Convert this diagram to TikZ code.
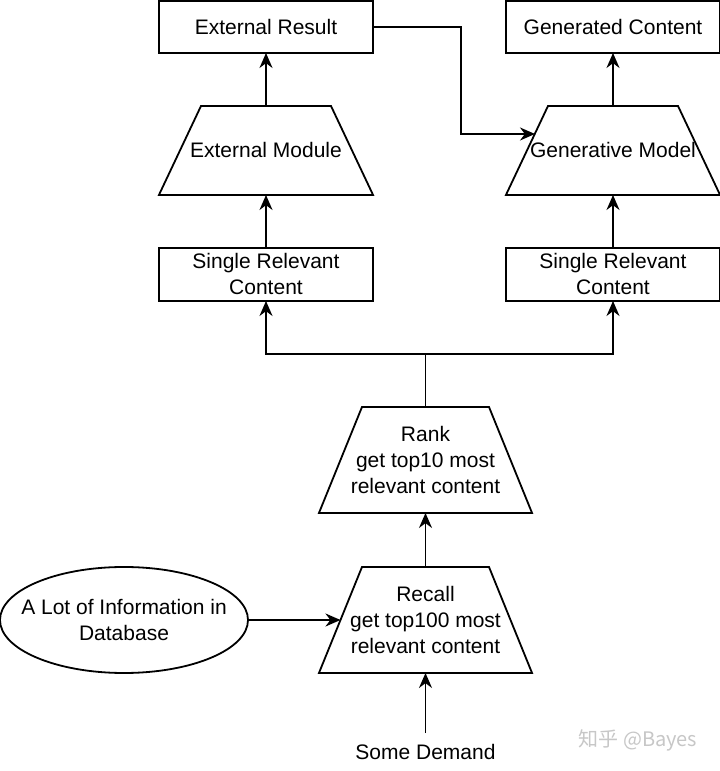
\documentclass[tikz,border=0pt]{standalone}
\usepackage{fontspec}
\setmainfont{Liberation Sans}
\newfontfamily\cjkfont{Noto Sans CJK SC}
\usetikzlibrary{arrows.meta,positioning,shapes.geometric}

\begin{document}
\begin{tikzpicture}[x=1pt, y=1pt, line width=1.8pt,
  lbl/.style={font=\fontsize{21}{26}\selectfont, align=center},
  box/.style={draw, fill=white, lbl, minimum width=214pt, minimum height=52pt, inner sep=0pt, outer sep=0pt},
  trap/.style={draw, fill=white, trapezium, inner xsep=65pt, inner ysep=44.5pt,
    trapezium left angle=64.7, trapezium right angle=64.7, outer sep=0pt},
  tall/.style={inner xsep=63.5pt, inner ysep=53pt, trapezium left angle=67.9, trapezium right angle=67.9},
  arr/.style={-{Stealth[length=15pt, width=13pt]}}]
  \path[use as bounding box, fill=white] (0,0) rectangle (720,771);

  % lower part: retrieval
  \node[trap, tall, label={[lbl]center:Recall\\get top100 most\\relevant content}] (recall) at (425.5,151) {};
  \node[trap, tall, above=54pt of recall, label={[lbl]center:Rank\\get top10 most\\relevant content}] (rank) {};
  \node[draw, ellipse, minimum width=248pt, minimum height=106pt, inner sep=0pt, outer sep=0pt,
    label={[lbl]center:A Lot of Information in\\Database}] (db) at (124,151) {};
  \node[lbl, minimum height=36pt, inner sep=0pt] (demand) at (425.5,19) {Some Demand};

  % upper part: two branches
  \node[box, minimum height=53pt] (relA) at (266,496.5) {Single Relevant\\Content};
  \node[box, minimum height=53pt] (relB) at (613,496.5) {Single Relevant\\Content};
  \node[trap, above=53pt of relA, label={[lbl]center:External Module}] (extmod) {};
  \node[trap, above=53pt of relB, label={[lbl]center:Generative Model}] (genmod) {};
  \node[box, above=53pt of extmod] (extres) {External Result};
  \node[box, above=53pt of genmod] (gencont) {Generated Content};

  \node[font=\cjkfont\fontsize{20}{24}\selectfont, text=black!22] (mark) at (638,31) {知乎 @Bayes};

  \draw[arr] (demand.north) -- (recall.south);
  \draw[arr] (db) -- (recall);
  \draw[arr] (recall.north) -- (rank.south);
  \draw (rank.north) -- ++(0,53) coordinate (split);
  \draw[arr] (split) -| (relA.south);
  \draw[arr] (split) -| (relB.south);
  \draw[arr] (relA.north) -- (extmod.south);
  \draw[arr] (extmod.north) -- (extres.south);
  \draw[arr] (relB.north) -- (genmod.south);
  \draw[arr] (genmod.north) -- (gencont.south);
  \coordinate (genin) at (535,637);
  \draw[arr] (extres.east) -- ++(88,0) |- (genin);
\end{tikzpicture}
\end{document}
